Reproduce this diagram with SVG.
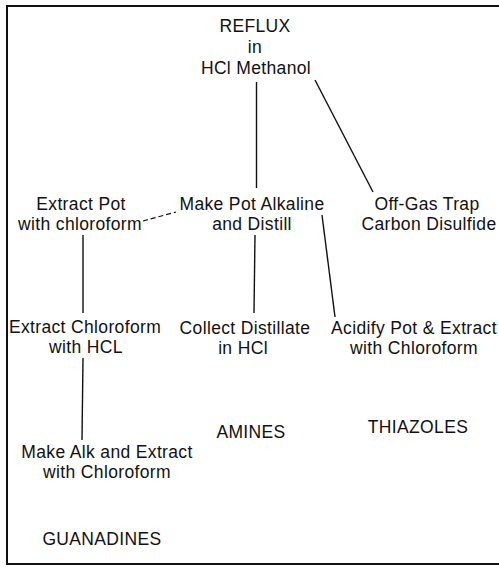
<svg xmlns="http://www.w3.org/2000/svg" width="499" height="575" viewBox="0 0 499 575">
<style>
text{font-family:"Liberation Sans",Arial,sans-serif;font-size:17.5px;fill:#111;text-anchor:middle;letter-spacing:0.35px}
.ln{stroke:#111;stroke-width:1.4;fill:none}
.ds{stroke:#111;stroke-width:1.2;fill:none;stroke-dasharray:5 3}
</style>
<rect width="499" height="575" fill="#fff"/>
<rect x="7" y="6" width="500" height="558" fill="none" stroke="#111" stroke-width="2"/>
<g id="connectors">
<line class="ln" x1="256.5" y1="82" x2="256.5" y2="188"/>
<line class="ln" x1="315" y1="80" x2="373" y2="192"/>
<line class="ds" x1="143" y1="221" x2="176" y2="212"/>
<line class="ln" x1="83" y1="235" x2="83" y2="313"/>
<line class="ln" x1="255" y1="235" x2="254" y2="313"/>
<line class="ln" x1="322" y1="215" x2="335" y2="317"/>
<line class="ln" x1="83" y1="358" x2="82" y2="440"/>
</g>
<g id="reflux"><text x="255" y="32">REFLUX</text><text x="255" y="53">in</text><text x="256" y="74">HCl Methanol</text></g>
<g id="extract-pot"><text x="81" y="210">Extract Pot</text><text x="80" y="230">with chloroform</text></g>
<g id="make-pot-alkaline"><text x="252" y="210">Make Pot Alkaline</text><text x="252" y="230">and Distill</text></g>
<g id="off-gas-trap"><text x="427" y="210">Off-Gas Trap</text><text x="429" y="230">Carbon Disulfide</text></g>
<g id="extract-chloroform"><text x="85" y="333">Extract Chloroform</text><text x="86" y="353">with HCL</text></g>
<g id="collect-distillate"><text x="245" y="334">Collect Distillate</text><text x="243" y="354">in HCl</text></g>
<g id="acidify-pot"><text x="414" y="334">Acidify Pot &amp; Extract</text><text x="414" y="354">with Chloroform</text></g>
<g id="make-alk"><text x="107" y="458">Make Alk and Extract</text><text x="107" y="478">with Chloroform</text></g>
<g id="amines"><text x="251" y="438">AMINES</text></g>
<g id="thiazoles"><text x="418" y="433">THIAZOLES</text></g>
<g id="guanadines"><text x="102" y="545">GUANADINES</text></g>
</svg>
